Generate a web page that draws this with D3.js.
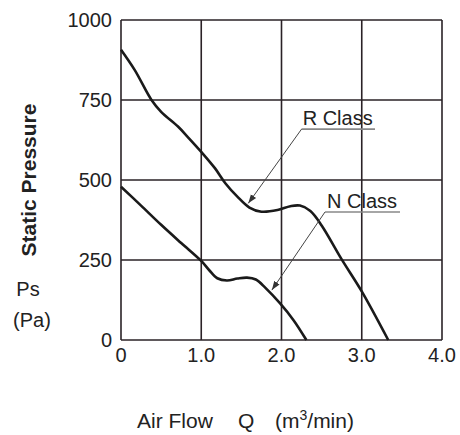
<!DOCTYPE html>
<html>
<script src="https://d3js.org/d3.v7.min.js"></script>
<style>
  body { margin:0; background:#fff; }
  text { font-family: "Liberation Sans", Arial, sans-serif; fill:#222; }
</style>
<body>
<svg id="myPlot" width="460" height="435"></svg>
<script>
// Data
const xTicks = [0, 1, 2, 3, 4];
const xTickLabels = ["0", "1.0", "2.0", "3.0", "4.0"];
const yTicks = [0, 250, 500, 750, 1000];
const yTickLabels = ["0", "250", "500", "750", "1000"];

const rClass = [[0,907],[0.17,844],[0.38,750],[0.5,713],[0.71,667],[0.83,635],[1.0,588],[1.17,537],
  [1.3,490],[1.45,448],[1.6,414],[1.75,401],[1.95,406],[2.11,418],[2.23,420],[2.36,403],[2.5,358],
  [2.75,252],[3.0,152],[3.33,0]];
const nClass = [[0,479],[0.25,420],[0.5,360],[0.75,303],[1.0,247],[1.1,218],[1.2,193],[1.32,186],
  [1.45,192],[1.57,195],[1.68,189],[1.8,163],[1.98,115],[2.15,62],[2.31,0]];

const labels = ["R Class", "N Class"];
const labelPos = [[2.264, 672], [2.567, 412]];   // text start (Q, Ps)
const underline = [[2.25, 3.165, 659], [2.542, 3.477, 400]];
const arrowTip = [[1.586, 427], [1.88, 156]];

// Dimensions
const mLeft = 121, mTop = 20, width = 321, height = 320;

const svg = d3.select("#myPlot");
const g = svg.append("g").attr("transform", "translate(" + mLeft + "," + mTop + ")");

const xScale = d3.scaleLinear().domain([0, 4]).range([0, width]);
const yScale = d3.scaleLinear().domain([0, 1000]).range([height, 0]);

// Grid
g.selectAll(".vgrid").data(xTicks).enter().append("line")
  .attr("x1", d => xScale(d)).attr("x2", d => xScale(d))
  .attr("y1", 0).attr("y2", height)
  .attr("stroke", "#2a2226").attr("stroke-width", 1.6);
g.selectAll(".hgrid").data(yTicks).enter().append("line")
  .attr("x1", 0).attr("x2", width)
  .attr("y1", d => yScale(d)).attr("y2", d => yScale(d))
  .attr("stroke", "#2a2226").attr("stroke-width", 1.6);

// Tick labels
g.selectAll(".ylab").data(yTicks).enter().append("text")
  .attr("x", -9).attr("y", d => yScale(d))
  .attr("dy", "0.36em").attr("text-anchor", "end")
  .style("font-size", "20px")
  .text((d, i) => yTickLabels[i]);
g.selectAll(".xlab").data(xTicks).enter().append("text")
  .attr("x", d => xScale(d)).attr("y", height + 22)
  .attr("text-anchor", "middle")
  .style("font-size", "20px")
  .text((d, i) => xTickLabels[i]);

// Curves
const line = d3.line()
  .x(d => xScale(d[0]))
  .y(d => yScale(d[1]))
  .curve(d3.curveCatmullRom.alpha(0.5));

[rClass, nClass].forEach(s => {
  g.append("path").datum(s)
    .attr("d", line)
    .attr("fill", "none")
    .attr("stroke", "#1a1a1a")
    .attr("stroke-width", 2.6)
    .attr("stroke-linejoin", "round");
});

// Arrowhead
svg.append("defs").append("marker")
  .attr("id", "arr").attr("viewBox", "0 0 10 10")
  .attr("refX", 10).attr("refY", 5)
  .attr("markerWidth", 9).attr("markerHeight", 9)
  .attr("markerUnits", "userSpaceOnUse")
  .attr("orient", "auto")
  .append("path").attr("d", "M0,1.5 L10,5 L0,8.5 Z").attr("fill", "#333");

// Annotations
labels.forEach((lab, i) => {
  g.append("line")
    .attr("x1", xScale(underline[i][0])).attr("x2", xScale(underline[i][1]))
    .attr("y1", yScale(underline[i][2])).attr("y2", yScale(underline[i][2]))
    .attr("stroke", "#888").attr("stroke-width", 1.6);
  g.append("line")
    .attr("x1", xScale(underline[i][0])).attr("y1", yScale(underline[i][2]))
    .attr("x2", xScale(arrowTip[i][0])).attr("y2", yScale(arrowTip[i][1]))
    .attr("stroke", "#444").attr("stroke-width", 1)
    .attr("marker-end", "url(#arr)");
  g.append("text")
    .attr("x", xScale(labelPos[i][0])).attr("y", yScale(labelPos[i][1]))
    .style("font-size", "20px")
    .text(lab);
});

// Axis titles
svg.append("text")
  .attr("transform", "translate(36,180) rotate(-90)")
  .attr("text-anchor", "middle")
  .style("font-size", "21px").style("font-weight", "600")
  .text("Static Pressure");
svg.append("text").attr("x", 28).attr("y", 296)
  .attr("text-anchor", "middle").style("font-size", "20px").text("Ps");
svg.append("text").attr("x", 32).attr("y", 327)
  .attr("text-anchor", "middle").style("font-size", "20px").text("(Pa)");

const xt = svg.append("text").attr("x", 137).attr("y", 428).style("font-size", "21px");
xt.append("tspan").text("Air Flow");
xt.append("tspan").attr("x", 238).text("Q");
xt.append("tspan").attr("x", 275).text("(m");
xt.append("tspan").attr("dy", -8).style("font-size", "14px").text("3");
xt.append("tspan").attr("dy", 8).text("/min)");
</script>
</body>
</html>
